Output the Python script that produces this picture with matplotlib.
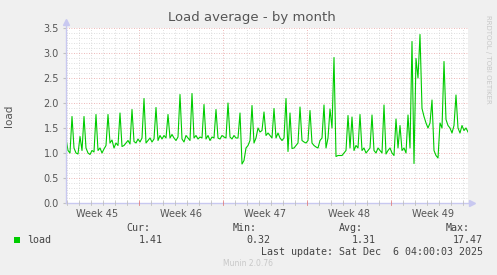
import numpy as np
import matplotlib
matplotlib.use("Agg")
import matplotlib.pyplot as plt
from matplotlib.ticker import MultipleLocator

# load average, one sample every 4 hours, first sample 22 h into week 45
load = [
    1.29, 1.05, 1.0, 1.73, 1.1, 1.0,
    0.98, 1.33, 1.05, 1.73, 1.1, 1.0,
    0.97, 1.05, 1.02, 1.77, 1.05, 1.1,
    1.0, 1.08, 1.15, 1.77, 1.2, 1.26,
    1.1, 1.2, 1.15, 1.8, 1.13, 1.15,
    1.2, 1.25, 1.18, 1.87, 1.23, 1.2,
    1.28, 1.22, 1.3, 2.09, 1.2, 1.25,
    1.3, 1.22, 1.28, 1.91, 1.25, 1.35,
    1.28, 1.35, 1.3, 1.77, 1.3, 1.37,
    1.3, 1.25, 1.32, 2.17, 1.28, 1.22,
    1.35, 1.3, 1.25, 2.19, 1.3, 1.35,
    1.28, 1.32, 1.3, 1.97, 1.28, 1.35,
    1.25, 1.32, 1.3, 1.87, 1.3, 1.28,
    1.35, 1.32, 1.3, 2.0, 1.32, 1.28,
    1.35, 1.3, 1.3, 1.8, 0.78, 0.85,
    1.1, 1.15, 1.25, 1.95, 1.2, 1.3,
    1.5, 1.42, 1.45, 1.82, 1.35, 1.4,
    1.35, 1.3, 1.89, 1.3, 1.4, 1.3,
    1.25, 1.3, 2.09, 1.03, 1.8, 1.09,
    1.1, 1.15, 1.2, 1.92, 1.25, 1.22,
    1.2, 1.25, 1.85, 1.2, 1.15, 1.12,
    1.1, 1.25, 1.3, 1.96, 1.1, 1.3,
    1.88, 1.5, 2.91, 0.93, 0.95, 0.95,
    0.95, 1.0, 1.05, 1.75, 1.1, 1.72,
    1.05, 1.15, 1.1, 1.77, 1.05, 1.1,
    1.0, 1.05, 1.1, 1.76, 1.05, 1.0,
    1.1, 1.05, 1.0, 1.96, 0.98, 1.05,
    1.1, 1.0, 0.95, 1.68, 1.1, 1.55,
    1.05, 1.1, 1.0, 1.76, 1.1, 3.23,
    0.79, 2.89, 2.5, 3.37, 1.89, 1.73,
    1.6, 1.5, 1.6, 2.06, 1.05, 0.95,
    0.9, 1.6, 1.5, 2.83, 1.67, 1.55,
    1.5, 1.4, 1.55, 2.16, 1.5, 1.4,
    1.55, 1.45, 1.5, 1.42,
]
start_hours = 22
step_hours = 4
weeks = ["Week 45", "Week 46", "Week 47", "Week 48", "Week 49"]
stats_labels = ["Cur:", "Min:", "Avg:", "Max:"]
stats_values = ["1.41", "0.32", "1.31", "17.47"]

days = (start_hours + step_hours * np.arange(len(load))) / 24.0

W, H = 497, 275
fig = plt.figure(figsize=(W / 100, H / 100), dpi=100, facecolor="#f0f0f0")
ax = fig.add_axes([66 / W, (H - 203) / H, (468 - 66) / W, (203 - 28) / H])
ax.set_facecolor("white")

x0, x1 = 11 / 12, (468 - 55) / 12
ax.set_xlim(x0, x1)
ax.set_ylim(0, 3.5)

# grid: daily / 0.1 minor in grey, weekly / 0.5 major in red
for d in range(1, 35):
    col = "#e8a0a0" if d % 7 == 0 else "#d4d4d4"
    ax.axvline(d, color=col, lw=0.6, ls=(0, (1, 2)), zorder=1)
for v in np.arange(0.1, 3.51, 0.1):
    major = abs(v * 2 - round(v * 2)) < 1e-6
    ax.axhline(v, color="#e8a0a0" if major else "#d4d4d4", lw=0.6, ls=(0, (1, 2)), zorder=1)

ax.plot(days, load, color="#00cc00", lw=0.8, zorder=3)

for s in ax.spines.values():
    s.set_visible(False)
axis_col = "#c8c8f0"
ax.plot([x0, x0], [0, 3.62], color=axis_col, lw=1, clip_on=False, zorder=4)
ax.plot([x0, x1 + 0.3], [0, 0], color=axis_col, lw=1, clip_on=False, zorder=4)
ax.plot([x0], [3.62], marker="^", ms=4, color=axis_col, clip_on=False)
ax.plot([x1 + 0.3], [0], marker=">", ms=4, color=axis_col, clip_on=False)

# small ticks along the time axis
for d in range(1, 35):
    col = "#e08080" if d % 7 == 0 else "#c0c0c0"
    ax.plot([d, d], [-0.04, 0.04], color=col, lw=0.6, clip_on=False, zorder=4)

ax.yaxis.set_major_locator(MultipleLocator(0.5))
ax.set_yticklabels([f"{v:.1f}" for v in ax.get_yticks()])
ax.tick_params(axis="y", length=2, color="#c0c0c0", labelsize=7, labelcolor="#555555", pad=3)
ax.set_xticks([3.5, 10.5, 17.5, 24.5, 31.5])
ax.set_xticklabels(weeks)
ax.tick_params(axis="x", length=0, labelsize=7, labelcolor="#555555", pad=4)
ax.set_ylim(0, 3.5)

ax.set_ylabel("load", fontsize=7.5, color="#555555", labelpad=21)

fig.text(252 / W, 1 - 18 / H, "Load average - by month", ha="center", va="center",
         fontsize=9.5, color="#555555")
fig.text(488 / W, 1 - 15 / H, "RRDTOOL / TOBI OETIKER", rotation=270, ha="center", va="top",
         fontsize=5, color="#c8c8c8")

mono = "DejaVu Sans Mono"
fs = 7.2
col_right = [150, 257, 363, 470]
val_right = [163, 270, 376, 483]
for lab, x in zip(stats_labels, col_right):
    fig.text(x / W, 1 - 228 / H, lab, ha="right", va="center", family=mono, fontsize=fs, color="#444444")
for val, x in zip(stats_values, val_right):
    fig.text(x / W, 1 - 240 / H, val, ha="right", va="center", family=mono, fontsize=fs, color="#444444")
fig.patches.append(plt.Rectangle((14 / W, 1 - 243 / H), 6 / W, 6 / H, transform=fig.transFigure,
                                 facecolor="#00cc00", edgecolor="none"))
fig.text(27 / W, 1 - 240 / H, "load", ha="left", va="center", family=mono, fontsize=fs, color="#444444")
fig.text(483 / W, 1 - 252 / H, "Last update: Sat Dec  6 04:00:03 2025", ha="right", va="center",
         family=mono, fontsize=fs, color="#444444")
fig.text(248 / W, 1 - 264 / H, "Munin 2.0.76", ha="center", va="center", fontsize=5.5, color="#c8c8c8")

fig.savefig("out.png", dpi=100, facecolor=fig.get_facecolor())
